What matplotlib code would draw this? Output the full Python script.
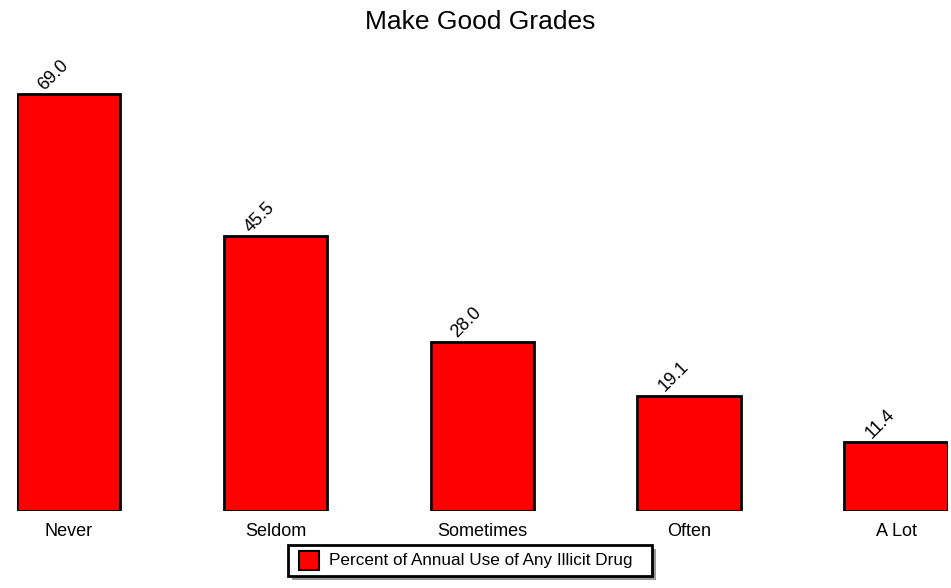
import matplotlib
matplotlib.use("Agg")
import matplotlib.pyplot as plt
from matplotlib.patches import Rectangle
import numpy as np

plt.rcParams['font.family'] = ['Liberation Sans', 'DejaVu Sans']

categories = ["Never", "Seldom", "Sometimes", "Often", "A Lot"]
values = [69.0, 45.5, 28.0, 19.1, 11.4]
series_name = "Percent of Annual Use of Any Illicit Drug"
title = "Make Good Grades"
bar_color = "#ff0000"

W, H = 951, 588
fig = plt.figure(figsize=(W / 100, H / 100), dpi=100)
ax = fig.add_axes([0.0176, 0.131, 0.979, 0.770])

x = np.arange(len(categories))
ax.bar(x, values, width=0.5, color=bar_color, edgecolor="black",
       linewidth=2, label=series_name)

for xi, v in zip(x, values):
    ax.text(xi - 0.12, v + 0.6, f"{v:.1f}", rotation=45, rotation_mode="anchor",
            ha="left", va="baseline", fontsize=13)

ax.set_xlim(-0.25, len(categories) - 0.75)
ax.set_ylim(0, 75)
ax.set_xticks(x)
ax.set_xticklabels(categories, fontsize=13)
ax.tick_params(axis="x", length=0, pad=9)
ax.set_yticks([])
for s in ax.spines.values():
    s.set_visible(False)

fig.suptitle(title, fontsize=19, x=0.505, y=0.983)

# legend box (drawn in figure pixel units)
def px(x0, y0, w, h):
    return (x0 / W, 1 - (y0 + h) / H), w / W, h / H

(lx, ly), lw, lh = px(288, 545, 364, 31)
(sx, sy), _, _ = px(292, 549, 364, 31)
fig.patches.append(Rectangle((sx, sy), lw, lh, transform=fig.transFigure,
                             facecolor="#999999", edgecolor="none", zorder=1))
fig.patches.append(Rectangle((lx, ly), lw, lh, transform=fig.transFigure,
                             facecolor="white", edgecolor="black", linewidth=2, zorder=2))
(hx, hy), hw, hh = px(299, 551, 20, 19)
fig.patches.append(Rectangle((hx, hy), hw, hh, transform=fig.transFigure,
                             facecolor=bar_color, edgecolor="black", linewidth=1.5, zorder=3))
fig.text(329 / W, 1 - 560.5 / H, series_name, fontsize=12.3, ha="left", va="center",
         zorder=4)

fig.savefig("out.png", dpi=100)
